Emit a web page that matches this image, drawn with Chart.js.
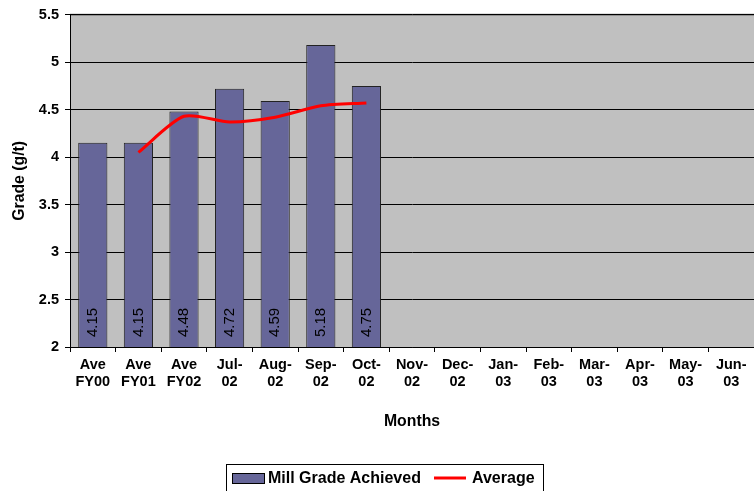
<!DOCTYPE html>
<html>
<head>
<meta charset="utf-8">
<script src="https://cdn.jsdelivr.net/npm/chart.js@4.4.1/dist/chart.umd.min.js"></script>
<style>
  html, body { margin: 0; padding: 0; background: #fff; }
  #wrap { width: 754px; height: 491px; position: relative; }
</style>
</head>
<body>
<div id="wrap"><canvas id="mycanvas" width="754" height="491"></canvas></div>
<script>
var months = [["Ave", "FY00"], ["Ave", "FY01"], ["Ave", "FY02"], ["Jul-", "02"], ["Aug-", "02"],
  ["Sep-", "02"], ["Oct-", "02"], ["Nov-", "02"], ["Dec-", "02"], ["Jan-", "03"], ["Feb-", "03"],
  ["Mar-", "03"], ["Apr-", "03"], ["May-", "03"], ["Jun-", "03"]];
var millGrade = [4.15, 4.15, 4.48, 4.72, 4.59, 5.18, 4.75, null, null, null, null, null, null, null, null];
var average = [null, 4.05, 4.43, 4.37, 4.42, 4.54, 4.57, null, null, null, null, null, null, null, null];

var FONT = "'Liberation Sans', Arial, sans-serif";
Chart.defaults.font.family = FONT;
Chart.defaults.color = "#000";

// grey plot area behind everything
var plotBg = {
  id: "plotBg",
  beforeDraw: function(chart) {
    var a = chart.chartArea, ctx = chart.ctx;
    ctx.save();
    ctx.fillStyle = "#c0c0c0";
    ctx.fillRect(a.left, a.top, a.right - a.left, a.bottom - a.top);
    ctx.strokeStyle = "#808080";
    ctx.lineWidth = 2;
    ctx.beginPath();
    ctx.moveTo(a.left, a.top);
    ctx.lineTo(a.right, a.top);
    ctx.stroke();
    ctx.restore();
  }
};

// vertical value labels inside the bars + boxed legend
var extras = {
  id: "extras",
  afterDraw: function(chart) {
    var ctx = chart.ctx;
    var xs = chart.scales.x, ys = chart.scales.y;
    ctx.save();
    ctx.font = "15px " + FONT;
    ctx.fillStyle = "#000";
    ctx.textAlign = "left";
    ctx.textBaseline = "middle";
    for (var i = 0; i < millGrade.length; i++) {
      if (millGrade[i] == null) continue;
      var px = xs.getPixelForValue(i);
      var py = ys.getPixelForValue(2) - 10;
      ctx.save();
      ctx.translate(px, py);
      ctx.rotate(-Math.PI / 2);
      ctx.fillText(millGrade[i].toFixed(2), 0, 0);
      ctx.restore();
    }
    ctx.restore();

    ctx.save();
    ctx.strokeStyle = "#000";
    ctx.lineWidth = 1;
    ctx.strokeRect(226.5, 464.5, 317, 30);
    ctx.fillStyle = "#666699";
    ctx.fillRect(232, 473, 32, 10);
    ctx.strokeStyle = "#000";
    ctx.strokeRect(232.5, 473.5, 32, 10);
    ctx.strokeStyle = "#ff0000";
    ctx.lineWidth = 3;
    ctx.beginPath();
    ctx.moveTo(434, 478);
    ctx.lineTo(466, 478);
    ctx.stroke();
    ctx.fillStyle = "#000";
    ctx.font = "bold 16px " + FONT;
    ctx.textBaseline = "middle";
    ctx.fillText("Mill Grade Achieved", 268, 479);
    ctx.fillText("Average", 472, 479);
    ctx.restore();
  }
};

var ctx = document.getElementById("mycanvas");

var MillChart = new Chart(ctx, {
  type: "bar",
  data: {
    labels: months,
    datasets: [
      {
        type: "line",
        label: "Average",
        data: average,
        borderColor: "#ff0000",
        backgroundColor: "#ff0000",
        borderWidth: 3,
        pointRadius: 0,
        tension: 0.25,
        fill: false,
        order: 0
      },
      {
        label: "Mill Grade Achieved",
        data: millGrade,
        backgroundColor: "#666699",
        borderColor: "#222222",
        borderWidth: 1,
        barPercentage: 0.64,
        categoryPercentage: 1,
        order: 1
      }
    ]
  },
  options: {
    responsive: false,
    animation: false,
    layout: { padding: { top: 14, right: 0, left: 0, bottom: 0 } },
    plugins: {
      legend: { display: false },
      tooltip: { enabled: false }
    },
    scales: {
      x: {
        offset: true,
        grid: { drawOnChartArea: false, color: "#000", tickLength: 5, offset: true },
        border: { color: "#000" },
        ticks: { font: { size: 14.5, weight: "bold", lineHeight: 1.15 }, padding: 5, maxRotation: 0, autoSkip: false },
        title: { display: true, text: "Months", font: { size: 15.8, weight: "bold" }, padding: { bottom: 60 } },
        afterFit: function(scale) { scale.height = 144; }
      },
      y: {
        min: 2,
        max: 5.5,
        ticks: {
          stepSize: 0.5,
          font: { size: 14.5, weight: "bold" },
          padding: 6,
          callback: function(v) { return String(v); }
        },
        grid: { color: "#000", tickLength: 5 },
        border: { color: "#000" },
        title: { display: true, text: "Grade (g/t)", font: { size: 15.8, weight: "bold" }, padding: { top: 10 } },
        afterFit: function(scale) { scale.width = 70; }
      }
    }
  },
  plugins: [plotBg, extras]
});
</script>
</body>
</html>
